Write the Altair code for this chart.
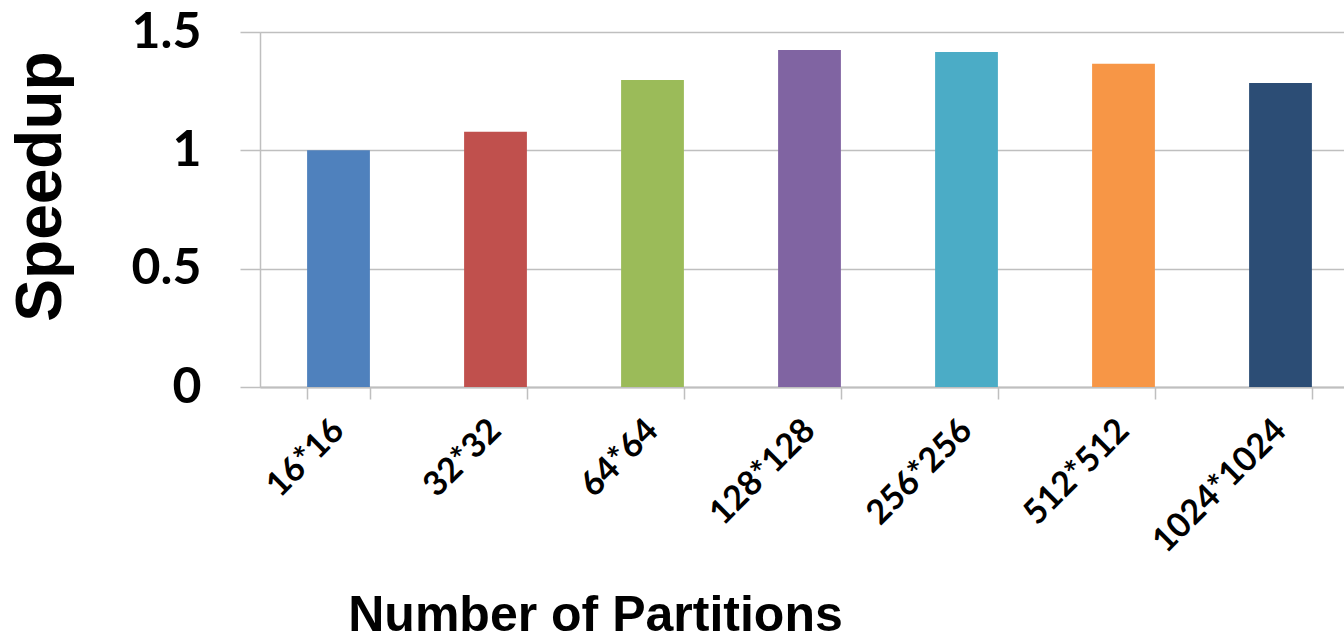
import altair as alt
import pandas as pd

categories = ["16*16", "32*32", "64*64", "128*128", "256*256", "512*512", "1024*1024"]
speedup = [1.0, 1.078, 1.297, 1.424, 1.415, 1.366, 1.285]
colors = ["#4F81BD", "#C0504D", "#9BBB59", "#8064A2", "#4BACC6", "#F79646", "#2C4D75"]

df = pd.DataFrame({"partitions": categories, "speedup": speedup})

chart = alt.Chart(df).mark_bar().encode(
    x=alt.X(
        "partitions:N",
        sort=categories,
        scale=alt.Scale(range=[0, 1099], paddingInner=0.6, paddingOuter=0.3),
        axis=alt.Axis(
            title="Number of Partitions",
            titleFont="Liberation Sans",
            titleFontSize=50,
            titleFontWeight="bold",
            titleColor="#000000",
            titleX=335,
            titleY=243,
            titleAlign="center",
            titleBaseline="alphabetic",
            labelFont="Lato",
            labelFontSize=34,
            labelFontWeight="bold",
            labelColor="#000000",
            labelAngle=-45,
            labelAlign="right",
            labelBaseline="middle",
            labelPadding=26,
            tickBand="extent",
            tickSize=12,
            tickColor="#bfbfbf",
            tickWidth=1.5,
            domainColor="#bfbfbf",
            domainWidth=2,
            grid=False,
        ),
    ),
    y=alt.Y(
        "speedup:Q",
        scale=alt.Scale(domain=[0, 1.5], nice=False),
        axis=alt.Axis(
            title="Speedup",
            titleFont="Liberation Sans",
            titleFontSize=64,
            titleFontWeight="bold",
            titleColor="#000000",
            titleAngle=-90,
            titleX=-200,
            titleY=154,
            titleAlign="center",
            titleBaseline="alphabetic",
            values=[0, 0.5, 1, 1.5],
            labelExpr="format(datum.value, '~g')",
            labelFont="Lato",
            labelFontSize=50,
            labelFontWeight="bold",
            labelColor="#000000",
            labelPadding=39,
            tickSize=20,
            tickColor="#bfbfbf",
            tickWidth=1.5,
            domainColor="#bfbfbf",
            domainWidth=1.5,
            grid=True,
            gridColor="#bfbfbf",
            gridWidth=1.5,
        ),
    ),
    color=alt.Color(
        "partitions:N",
        sort=categories,
        scale=alt.Scale(domain=categories, range=colors),
        legend=None,
    ),
).properties(
    width=1084,
    height=355,
    autosize=alt.AutoSizeParams(type="none"),
    padding={"left": 260, "top": 32, "right": 0, "bottom": 253},
).configure_view(stroke=None).configure(background="#ffffff")

chart.save("out.html", embed_options={"renderer": "svg", "actions": False})
